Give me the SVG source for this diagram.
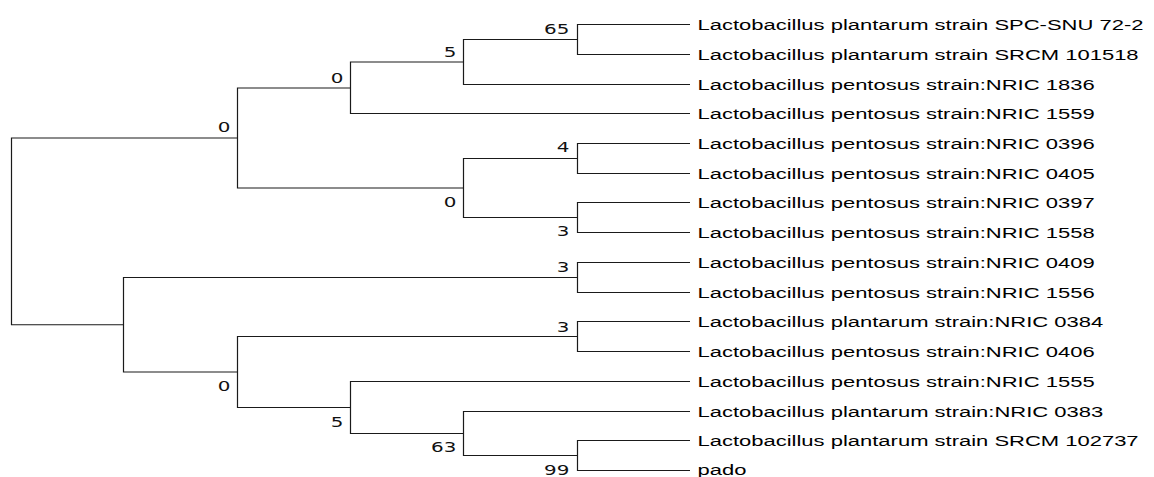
<svg xmlns="http://www.w3.org/2000/svg" width="1154" height="477" viewBox="0 0 1154 477">
<style>
.br{fill:none;stroke:#1a1a1a;stroke-width:1.2}
.leaf{font-family:"Liberation Sans",Arial,sans-serif;font-size:15px;fill:#000}
.bs{font-family:"DejaVu Sans",Verdana,sans-serif;font-size:14px;fill:#111;text-anchor:end}
</style>
<rect width="1154" height="477" fill="#fff"/>
<g id="connectors">
<path class="br" d="M690,24.5H577.5V54.5H690"/>
<path class="br" d="M577.5,39.5H463.5V84.5H690"/>
<path class="br" d="M463.5,62H350.5V113.5H690"/>
<path class="br" d="M690,143.5H577.5V173.5H690"/>
<path class="br" d="M690,202.5H577.5V232.5H690"/>
<path class="br" d="M577.5,158.5H463.5V217.5H577.5"/>
<path class="br" d="M350.5,88H237.5V188H463.5"/>
<path class="br" d="M690,262.5H577.5V292.5H690"/>
<path class="br" d="M690,321.5H577.5V351.5H690"/>
<path class="br" d="M690,440.5H577.5V470.5H690"/>
<path class="br" d="M690,411.5H463.5V455.5H577.5"/>
<path class="br" d="M690,381.5H350.5V433.5H463.5"/>
<path class="br" d="M577.5,336.5H237.5V407.5H350.5"/>
<path class="br" d="M577.5,277.5H123.5V372H237.5"/>
<path class="br" d="M237.5,138H11.5V324.75H123.5"/>
</g>
<g id="leaf1"><text class="leaf" transform="matrix(1.4667 0 0 1 697.5 29.5)">Lactobacillus plantarum strain SPC-SNU 72-2</text></g>
<g id="leaf2"><text class="leaf" transform="matrix(1.4667 0 0 1 697.5 59.5)">Lactobacillus plantarum strain SRCM 101518</text></g>
<g id="leaf3"><text class="leaf" transform="matrix(1.4667 0 0 1 697.5 89.5)">Lactobacillus pentosus strain:NRIC 1836</text></g>
<g id="leaf4"><text class="leaf" transform="matrix(1.4667 0 0 1 697.5 118.5)">Lactobacillus pentosus strain:NRIC 1559</text></g>
<g id="leaf5"><text class="leaf" transform="matrix(1.4667 0 0 1 697.5 148.5)">Lactobacillus pentosus strain:NRIC 0396</text></g>
<g id="leaf6"><text class="leaf" transform="matrix(1.4667 0 0 1 697.5 178.5)">Lactobacillus pentosus strain:NRIC 0405</text></g>
<g id="leaf7"><text class="leaf" transform="matrix(1.4667 0 0 1 697.5 207.5)">Lactobacillus pentosus strain:NRIC 0397</text></g>
<g id="leaf8"><text class="leaf" transform="matrix(1.4667 0 0 1 697.5 237.5)">Lactobacillus pentosus strain:NRIC 1558</text></g>
<g id="leaf9"><text class="leaf" transform="matrix(1.4667 0 0 1 697.5 267.5)">Lactobacillus pentosus strain:NRIC 0409</text></g>
<g id="leaf10"><text class="leaf" transform="matrix(1.4667 0 0 1 697.5 297.5)">Lactobacillus pentosus strain:NRIC 1556</text></g>
<g id="leaf11"><text class="leaf" transform="matrix(1.4667 0 0 1 697.5 326.5)">Lactobacillus plantarum strain:NRIC 0384</text></g>
<g id="leaf12"><text class="leaf" transform="matrix(1.4667 0 0 1 697.5 356.5)">Lactobacillus pentosus strain:NRIC 0406</text></g>
<g id="leaf13"><text class="leaf" transform="matrix(1.4667 0 0 1 697.5 386.5)">Lactobacillus pentosus strain:NRIC 1555</text></g>
<g id="leaf14"><text class="leaf" transform="matrix(1.4667 0 0 1 697.5 416.5)">Lactobacillus plantarum strain:NRIC 0383</text></g>
<g id="leaf15"><text class="leaf" transform="matrix(1.4667 0 0 1 697.5 445.5)">Lactobacillus plantarum strain SRCM 102737</text></g>
<g id="leaf16"><text class="leaf" transform="matrix(1.4667 0 0 1 697.5 474.5)">pado</text></g>
<g id="nodeG"><text class="bs" transform="matrix(1.42 0 0 1 230.3 132)">0</text></g>
<g id="nodeC"><text class="bs" transform="matrix(1.42 0 0 1 343.3 82.7)">0</text></g>
<g id="nodeB"><text class="bs" transform="matrix(1.42 0 0 1 456.3 56.7)">5</text></g>
<g id="nodeA"><text class="bs" transform="matrix(1.42 0 0 1 569.3 34.3)">65</text></g>
<g id="nodeD"><text class="bs" transform="matrix(1.42 0 0 1 569.3 151.7)">4</text></g>
<g id="nodeF"><text class="bs" transform="matrix(1.42 0 0 1 456.3 207.3)">0</text></g>
<g id="nodeE"><text class="bs" transform="matrix(1.42 0 0 1 569.3 235.5)">3</text></g>
<g id="nodeI"><text class="bs" transform="matrix(1.42 0 0 1 569.3 271.7)">3</text></g>
<g id="nodeJ"><text class="bs" transform="matrix(1.42 0 0 1 569.3 331.7)">3</text></g>
<g id="nodeN"><text class="bs" transform="matrix(1.42 0 0 1 230.3 390.7)">0</text></g>
<g id="nodeM"><text class="bs" transform="matrix(1.42 0 0 1 343.3 426.7)">5</text></g>
<g id="nodeL"><text class="bs" transform="matrix(1.42 0 0 1 456.3 452.3)">63</text></g>
<g id="nodeK"><text class="bs" transform="matrix(1.42 0 0 1 569.3 474.5)">99</text></g>
</svg>
